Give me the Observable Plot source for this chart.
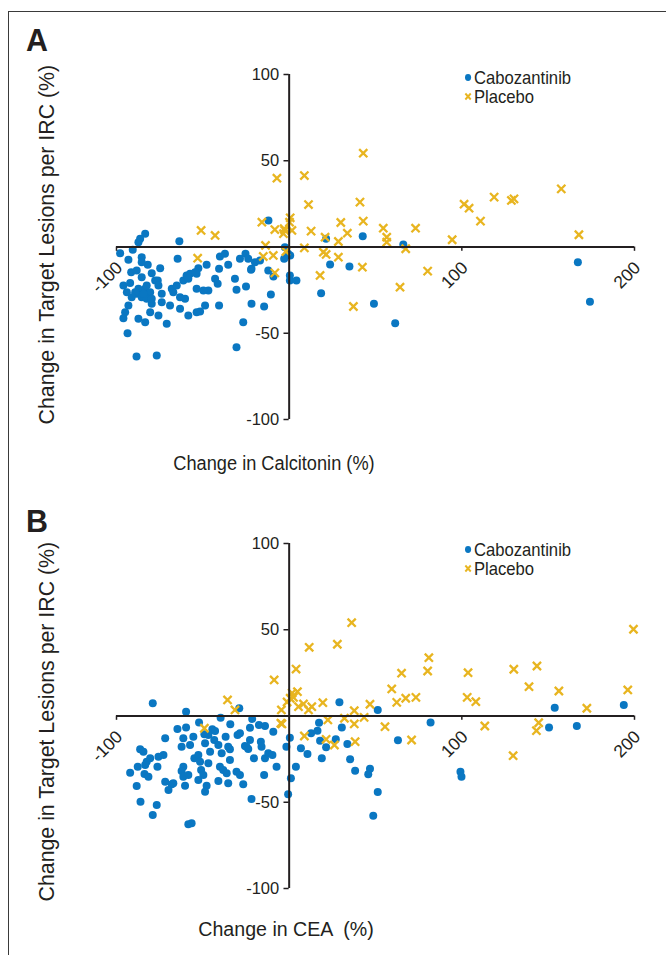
<!DOCTYPE html>
<html><head><meta charset="utf-8">
<script src="https://cdn.jsdelivr.net/npm/d3@7"></script>
<script src="https://cdn.jsdelivr.net/npm/@observablehq/plot@0.6"></script>
<style>
body{margin:0;background:#fff;}
#page{position:relative;width:666px;height:955px;overflow:hidden;font-family:"Liberation Sans",Arial,sans-serif;color:#231f20;}
.frame{position:absolute;left:8px;top:11px;width:700px;height:1000px;border-left:1.3px solid #3a3a3a;border-top:1.3px solid #3a3a3a;}
.panel{position:absolute;left:0;}
.plbl{position:absolute;font-weight:bold;font-size:32px;line-height:1;transform:scaleX(0.95);transform-origin:left top;}
.xlbl{position:absolute;font-size:20px;line-height:1;white-space:pre;text-align:center;width:300px;transform-origin:center center;}
.ylbl{position:absolute;font-size:21.3px;line-height:1;width:460px;text-align:center;transform:rotate(-90deg);white-space:nowrap;}
.legend{position:absolute;font-size:18.5px;line-height:19px;transform:scaleX(0.9);transform-origin:left top;}
.legend svg{vertical-align:middle;margin-right:2px;position:relative;top:-2px;}
</style>
</head><body>
<div id="page">
  <div class="frame"></div>
</div>
<script>
const blue = "#0a77c2";
const gold = "#e8b520";
const seriesNames = ["Cabozantinib", "Placebo"];
const xTicks = [-100, 100, 200];
const yTicks = [100, 50, -50, -100];
const xTitles = ["Change in Calcitonin (%)", "Change in CEA  (%)"];
const yTitle = "Change in Target Lesions per IRC (%)";
const panelLetters = ["A", "B"];

// Panel A: [change in calcitonin %, change in target lesions %]
const caboCalcitonin = [[-83.4,7.7],[-86.3,4.8],[-87.3,2.8],[-63.6,3.4],[-97.9,-3.6],[-90.6,-1.6],[-93.1,-7.4],[-85.4,-5.9],[-81.9,-10.3],[-64.6,-6.8],[-74.7,-12.3],[-91.5,-14.6],[-88.3,-13.6],[-85.4,-17.5],[-79.6,-15.2],[-76.1,-19.4],[-96.0,-22.3],[-92.1,-20.8],[-94.0,-26.2],[-87.3,-24.2],[-83.4,-24.2],[-80.5,-26.2],[-88.3,-27.1],[-85.4,-29.1],[-82.5,-30.0],[-79.6,-32.9],[-93.1,-33.9],[-95.0,-37.8],[-96.0,-41.3],[-87.3,-41.6],[-83.4,-43.6],[-80.5,-37.8],[-75.7,-39.7],[-70.9,-44.5],[-73.8,-27.1],[-73.8,-32.0],[-69.0,-33.9],[-68.0,-24.2],[-65.1,-22.3],[-63.2,-29.1],[-61.3,-19.4],[-59.4,-16.5],[-57.4,-15.5],[-63.2,-35.8],[-58.4,-39.7],[-60.3,-30.0],[-53.6,-24.2],[-52.6,-12.3],[-53.6,-15.5],[-51.6,-37.4],[-48.7,-33.9],[-47.8,-10.3],[-46.8,-25.2],[-42.9,-18.4],[-41.4,-21.3],[-40.6,-12.6],[-40.6,-33.9],[-40.1,-5.5],[-37.2,-3.9],[-35.3,-10.3],[-31.4,-18.4],[-30.5,-24.8],[-28.5,-6.8],[-25.3,-3.9],[-23.7,-6.8],[-26.6,-43.6],[-21.8,-12.6],[-21.8,-32.9],[-19.8,-8.8],[-16.9,-7.8],[-14.5,-34.5],[-10.6,-27.5],[-12.1,-13.6],[-30.5,-58.1],[-93.6,-50.0],[-88.4,-63.5],[-76.7,-62.9],[-2.5,-0.1],[-2.9,-6.8],[0.4,-16.5],[0.4,-19.4],[4.2,-19.4],[-0.6,-3.9],[-79.6,-30.0],[-89.2,-26.2],[-84.4,-27.1],[-77.6,-19.4],[-82.5,-22.3],[-91.2,-29.1],[-67.1,-26.2],[-58.4,-18.4],[-54.5,-14.6],[-49.7,-25.2],[-53.6,-37.8],[-75.7,-22.3],[-85.4,-8.8],[-12.0,15.4],[21.4,4.8],[42.6,6.3],[66.1,1.4],[0.6,-4.9],[23.7,-10.1],[34.9,-11.3],[18.5,-26.8],[49.1,-32.9],[61.4,-44.2],[-25.0,-22.9],[-9.1,-17.1],[-22.1,-13.2],[167.2,-8.8],[174.2,-31.8]];
const placeboCalcitonin = [[-51.0,9.6],[-42.9,6.7],[-53.0,-6.5],[-13.7,0.9],[-15.0,-5.5],[-9.2,-4.9],[-8.3,-15.0],[-8.3,10.1],[-2.5,9.6],[-1.9,-2.6],[-7.1,39.9],[8.8,41.4],[42.9,54.4],[11.2,24.6],[41.0,26.0],[42.9,15.0],[-15.8,14.4],[-2.9,10.6],[-3.3,7.7],[0.6,16.9],[0.2,14.4],[1.6,9.6],[12.7,9.2],[29.9,14.2],[33.7,8.0],[28.5,3.2],[20.8,5.7],[54.5,10.9],[56.5,5.7],[56.5,2.8],[73.2,10.9],[8.8,-0.5],[19.8,-3.0],[21.4,-4.3],[28.5,-5.9],[17.9,-16.5],[42.4,-11.7],[67.5,-1.0],[80.2,-14.0],[64.2,-23.3],[37.2,-34.5],[101.3,24.8],[104.2,22.5],[118.7,28.9],[128.7,27.0],[130.2,27.9],[157.6,33.7],[110.8,15.0],[94.4,4.2],[167.8,7.1]];

// Panel B: [change in CEA %, change in target lesions %]
const caboCEA = [[-79.0,7.4],[-59.7,2.5],[-28.9,4.5],[-52.2,-3.7],[-39.7,-1.0],[-34.1,-4.8],[-21.4,-1.7],[-17.5,-5.2],[-14.0,-5.8],[-9.2,-9.1],[-64.7,-7.5],[-59.7,-6.6],[-44.5,-7.7],[-46.8,-11.0],[-43.4,-13.9],[-49.1,-10.6],[-42.9,-8.7],[-36.8,-12.0],[-29.9,-11.0],[-28.5,-10.0],[-22.7,-6.8],[-22.7,-13.9],[-71.8,-12.9],[-61.3,-12.9],[-55.5,-12.0],[-62.3,-17.8],[-57.4,-16.8],[-48.7,-15.8],[-41.0,-16.8],[-35.3,-17.8],[-34.3,-19.3],[-25.6,-17.4],[-23.7,-19.1],[-16.4,-14.9],[-16.0,-17.8],[-86.3,-19.3],[-84.4,-20.7],[-80.5,-24.5],[-82.5,-26.5],[-75.7,-23.6],[-72.8,-22.6],[-83.4,-28.4],[-87.7,-29.4],[-76.3,-29.4],[-92.1,-32.9],[-83.8,-33.6],[-81.5,-35.2],[-88.3,-40.6],[-71.8,-38.1],[-68.0,-39.6],[-69.9,-42.9],[-67.1,-39.0],[-61.3,-29.4],[-62.3,-31.9],[-58.4,-34.2],[-61.3,-35.2],[-60.3,-40.4],[-54.9,-24.5],[-52.6,-22.6],[-51.6,-26.5],[-46.8,-27.4],[-51.0,-31.3],[-49.7,-34.2],[-52.6,-37.1],[-47.8,-40.4],[-48.7,-43.9],[-40.1,-29.4],[-38.2,-31.3],[-36.2,-33.2],[-41.0,-37.7],[-35.3,-39.0],[-30.5,-32.3],[-28.5,-34.2],[-26.6,-39.6],[-39.1,-21.6],[-34.3,-25.5],[-45.8,-20.7],[-24.7,-17.8],[-20.4,-24.5],[-14.0,-24.5],[-12.1,-21.6],[-9.7,-22.6],[-7.3,-29.4],[-14.5,-34.2],[-86.1,-49.7],[-76.7,-51.6],[-79.0,-57.4],[-58.4,-62.8],[-56.5,-62.2],[-21.8,-48.1],[-0.6,-45.4],[0.4,-12.6],[-1.6,-17.8],[1.0,-36.1],[3.9,-29.4],[29.1,7.9],[51.3,3.5],[81.9,-3.7],[17.3,-3.9],[30.5,-6.6],[12.7,-10.0],[16.4,-8.5],[17.9,-14.3],[27.0,-13.5],[33.7,-16.2],[63.0,-14.1],[21.4,-18.1],[6.8,-18.7],[10.6,-22.0],[18.9,-24.5],[35.3,-25.1],[38.2,-31.7],[46.8,-30.6],[45.8,-33.8],[51.3,-44.1],[48.7,-57.8],[150.5,-6.6],[166.6,-5.8],[153.8,4.8],[193.8,6.4],[99.2,-32.3],[99.8,-35.2]];
const placeboCEA = [[-35.7,9.3],[-31.4,3.5],[-49.1,-7.1],[-4.5,3.5],[-4.8,-4.2],[-4.2,-4.6],[36.2,54.1],[27.9,41.6],[11.6,39.8],[4.0,27.2],[-8.7,20.9],[0.6,10.3],[2.5,10.8],[4.8,14.1],[5.4,5.4],[8.3,7.0],[11.2,3.5],[13.1,5.4],[19.5,7.7],[37.7,3.1],[37.7,-4.6],[43.4,-0.8],[46.8,6.8],[22.4,-2.3],[32.0,-1.3],[8.8,-11.6],[21.4,-13.5],[26.2,-16.8],[38.2,-14.9],[55.5,-6.2],[59.4,15.7],[62.3,7.9],[65.1,24.8],[67.5,10.3],[73.4,10.8],[80.2,26.1],[80.9,33.8],[70.9,-13.9],[103.6,25.1],[103.1,10.8],[108.1,8.3],[113.3,-5.8],[130.1,27.1],[138.9,17.0],[143.5,29.0],[156.2,14.5],[144.5,-3.9],[143.2,-8.5],[129.7,-23.0],[172.4,4.5],[196.1,15.1],[199.4,50.3],[-1.2,8.1],[1.7,13.3]];

const ink = "#231f20";

function scatter(cabo, plac, height, marginTop, marginBottom) {
  return Plot.plot({
    width: 666, height,
    marginLeft: 116, marginRight: 32, marginTop, marginBottom,
    x: {domain: [-100, 200], axis: null},
    y: {domain: [-100, 100], axis: null},
    style: {background: "transparent", overflow: "visible", fontFamily: "'Liberation Sans', Arial, sans-serif"},
    marks: [
      Plot.dot(cabo, {x: d => d[0], y: d => d[1], r: 4, fill: blue}),
      Plot.dot(plac, {x: d => d[0], y: d => d[1], r: 3.8, symbol: "times", stroke: gold, strokeWidth: 2.3}),
      Plot.ruleY([0], {x1: -100, x2: 200, stroke: ink, strokeWidth: 2}),
      Plot.ruleX([0], {y1: -100, y2: 100, stroke: ink, strokeWidth: 2}),
      Plot.ruleY(yTicks, {x1: -3, x2: 0, stroke: ink, strokeWidth: 1.5}),
      Plot.ruleX(xTicks, {y1: -2.5, y2: 0, stroke: ink, strokeWidth: 1.5}),
      Plot.text(yTicks, {x: 0, y: d => d, text: d => String(d), textAnchor: "end", dx: -10, fontSize: 16.5, fill: ink}),
      Plot.text(xTicks, {x: d => d, y: 0, text: d => String(d), rotate: -45, textAnchor: "end", dx: 3, dy: 18, fontSize: 17.5, fill: ink})
    ]
  });
}

const page = document.getElementById("page");
function addPanel(idx, top, svgHeight, mt, mb, cabo, plac, xTitleCenter, xTitleTop, xScale, yTitleCenter, legendTop) {
  const wrap = document.createElement("div");
  wrap.className = "panel";
  wrap.style.top = top + "px";
  wrap.appendChild(scatter(cabo, plac, svgHeight, mt, mb));
  page.appendChild(wrap);

  const L = document.createElement("div");
  L.className = "plbl"; L.textContent = panelLetters[idx];
  L.style.left = "26px"; L.style.top = (top + (idx === 0 ? 24 : 27)) + "px";
  page.appendChild(L);

  const xt = document.createElement("div");
  xt.className = "xlbl"; xt.textContent = xTitles[idx];
  xt.style.left = (xTitleCenter - 150) + "px"; xt.style.top = xTitleTop + "px";
  xt.style.transform = `scaleX(${xScale})`;
  page.appendChild(xt);

  const yt = document.createElement("div");
  yt.className = "ylbl"; yt.textContent = yTitle;
  yt.style.left = (48 - 230) + "px"; yt.style.top = (yTitleCenter - 11) + "px";
  page.appendChild(yt);

  const lg = document.createElement("div");
  lg.className = "legend";
  lg.style.left = "464px"; lg.style.top = legendTop + "px";
  lg.innerHTML =
    `<div><svg width="9" height="9"><circle cx="4.5" cy="4.5" r="3.4" fill="${blue}"/></svg>${seriesNames[0]}</div>` +
    `<div><svg width="9" height="9"><path d="M1.5,1.5L7.5,7.5M7.5,1.5L1.5,7.5" stroke="${gold}" stroke-width="2.2"/></svg>${seriesNames[1]}</div>`;
  page.appendChild(lg);
}

addPanel(0, 0, 478, 74, 59, caboCalcitonin, placeboCalcitonin, 274, 453, 0.91, 245, 68);
addPanel(1, 478, 477, 65, 67, caboCEA, placeboCEA, 286, 919, 0.98, 722, 540);
</script>
</body></html>
